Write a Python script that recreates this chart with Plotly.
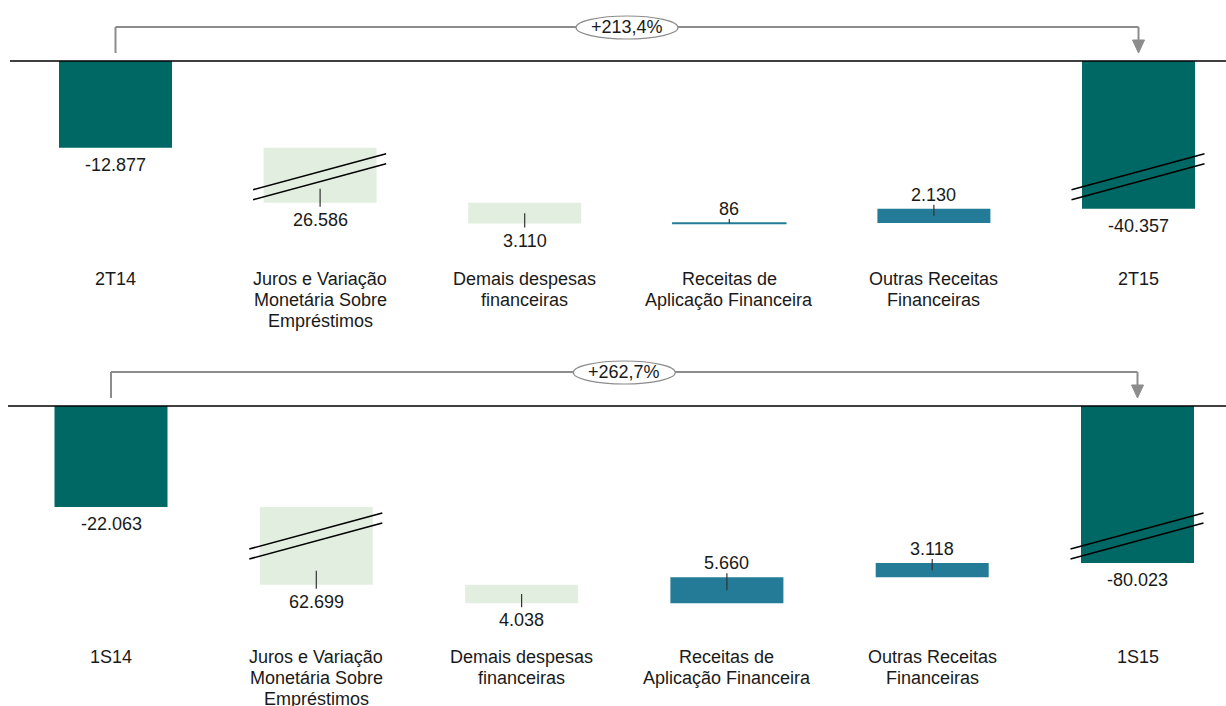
import plotly.graph_objects as go

W, H = 1226, 706
FONT = "Liberation Sans, Arial, sans-serif"
FS = 18

# ---------------- data (R$ mil) ----------------
cats_top = ["2T14", "Juros e Variação<br>Monetária Sobre<br>Empréstimos",
            "Demais despesas<br>financeiras", "Receitas de<br>Aplicação Financeira",
            "Outras Receitas<br>Financeiras", "2T15"]
start_top = -12877
changes_top = [-26586, -3110, 86, 2130]
end_top = -40357
var_top = "+213,4%"

cats_bot = ["1S14", "Juros e Variação<br>Monetária Sobre<br>Empréstimos",
            "Demais despesas<br>financeiras", "Receitas de<br>Aplicação Financeira",
            "Outras Receitas<br>Financeiras", "1S15"]
start_bot = -22063
changes_bot = [-62699, -4038, 5660, 3118]
end_bot = -80023
var_bot = "+262,7%"

TEAL = "#006864"
LIGHT = "#E2EFE0"
BLUE = "#237B97"
GRAY = "#8C8C8C"
TXT = "#1a1a1a"


def fmt(v):
    return f"{v:,}".replace(",", ".")


panels = [
    dict(cats=cats_top, start=start_top, chg=changes_top, end=end_top, var=var_top,
         brk=18420, dom_px=(0, 345), zero_px=61, ppu=0.006733, xc0=115.5, step=204.6,
         zl_start=10, label_top=279, ax=("x", "y")),
    dict(cats=cats_bot, start=start_bot, chg=changes_bot, end=end_bot, var=var_bot,
         brk=45730, dom_px=(345, 706), zero_px=406, ppu=0.004578, xc0=111, step=205.3,
         zl_start=8, label_top=657, ax=("x2", "y2")),
]

fig = go.Figure()
shapes = []
annotations = []
layout_axes = {}

for k, p in enumerate(panels):
    xa, ya = p["ax"]
    n = len(p["cats"])
    xs = list(range(n))
    bases, heights, colors, lw = [], [], [], []
    bases.append(0); heights.append(p["start"]); colors.append(TEAL); lw.append(0)
    cum = p["start"]
    for i, c in enumerate(p["chg"]):
        d = c + p["brk"] if i == 0 else c  # axis break on the first change bar
        bases.append(cum); heights.append(d)
        colors.append(BLUE if c > 0 else LIGHT)
        lw.append(1.5 if abs(c) * p["ppu"] < 1.5 else 0)
        cum += d
    end_disp = p["end"] + p["brk"]
    bases.append(0); heights.append(end_disp); colors.append(TEAL); lw.append(0)

    width = 113 / p["step"]
    fig.add_trace(go.Bar(x=xs, y=heights, base=bases, width=width,
                         marker=dict(color=colors, line=dict(color=colors, width=lw)),
                         xaxis=xa, yaxis=ya, showlegend=False, hoverinfo="skip"))

    values = [p["start"]] + p["chg"] + [p["end"]]
    for i in range(n):
        b, h = bases[i], heights[i]
        lo, hi = min(b, b + h), max(b, b + h)
        is_total = i in (0, n - 1)
        val = values[i]
        text = fmt(val) if is_total else fmt(abs(val))
        barlen = abs(h) * p["ppu"]
        mid = min(barlen / 2, 14)
        if is_total or val < 0:
            annotations.append(dict(x=i, y=lo, xref=xa, yref=ya, text=text, showarrow=False,
                                    yanchor="middle", yshift=-17,
                                    font=dict(size=FS, color=TXT, family=FONT)))
            if not is_total:
                shapes.append(dict(type="line", xref=xa, yref=ya, x0=i, x1=i,
                                   ysizemode="pixel", yanchor=lo, y0=-4, y1=mid,
                                   line=dict(color="#333", width=1.2)))
        else:
            annotations.append(dict(x=i, y=hi, xref=xa, yref=ya, text=text, showarrow=False,
                                    yanchor="middle", yshift=14,
                                    font=dict(size=FS, color=TXT, family=FONT)))
            shapes.append(dict(type="line", xref=xa, yref=ya, x0=i, x1=i,
                               ysizemode="pixel", yanchor=hi, y0=4, y1=-mid,
                               line=dict(color="#333", width=1.2)))
        for j, line in enumerate(p["cats"][i].split("<br>")):
            annotations.append(dict(x=i, xref=xa, y=1 - (p["label_top"] + 21 * j) / H,
                                    yref="paper", text=line, showarrow=False,
                                    yanchor="middle",
                                    font=dict(size=FS, color=TXT, family=FONT)))

    # axis-break double slashes on the first change bar and the final total
    for xi in (1, n - 1):
        for (y0, y1) in ((-42, -6), (-52, -16)):
            shapes.append(dict(type="line", xref=xa, yref=ya, xsizemode="pixel", xanchor=xi,
                               x0=-67, x1=66, ysizemode="pixel", yanchor=p["start"],
                               y0=y0, y1=y1, line=dict(color="black", width=1.6)))

    # zero line
    shapes.append(dict(type="line", xref="paper", yref=ya, x0=p["zl_start"] / W, x1=1,
                       y0=0, y1=0, line=dict(color="black", width=1.5)))

    # variation bracket
    br = dict(color=GRAY, width=2)
    shapes.append(dict(type="line", xref=xa, yref=ya, x0=0, x1=0, ysizemode="pixel",
                       yanchor=0, y0=8, y1=34, line=br))
    shapes.append(dict(type="line", xref=xa, yref=ya, x0=0, x1=n - 1, ysizemode="pixel",
                       yanchor=0, y0=34, y1=34, line=br))
    shapes.append(dict(type="line", xref=xa, yref=ya, x0=n - 1, x1=n - 1, ysizemode="pixel",
                       yanchor=0, y0=34, y1=20, line=br))
    shapes.append(dict(type="path", xref=xa, yref=ya, xsizemode="pixel", xanchor=n - 1,
                       ysizemode="pixel", yanchor=0, path="M-6,21 L6,21 L0,8 Z",
                       fillcolor=GRAY, line=dict(color=GRAY, width=1)))
    shapes.append(dict(type="circle", xref=xa, yref=ya, xsizemode="pixel", xanchor=(n - 1) / 2,
                       x0=-51, x1=51, ysizemode="pixel", yanchor=0, y0=22, y1=45,
                       fillcolor="white", line=dict(color=GRAY, width=1.2)))
    annotations.append(dict(x=(n - 1) / 2, y=0, xref=xa, yref=ya, yshift=34, text=p["var"],
                            showarrow=False, yanchor="middle",
                            font=dict(size=FS, color=TXT, family=FONT)))

    # axes geometry
    d0, d1 = p["dom_px"]
    y_top = p["zero_px"] - d0
    y_bot = d1 - p["zero_px"]
    yr = [-y_bot / p["ppu"], y_top / p["ppu"]]
    xr = [-p["xc0"] / p["step"], (W - p["xc0"]) / p["step"]]
    xkey = "xaxis" if xa == "x" else "xaxis" + xa[1:]
    ykey = "yaxis" if ya == "y" else "yaxis" + ya[1:]
    layout_axes[xkey] = dict(range=xr, domain=[0, 1], visible=False, fixedrange=True,
                             anchor=ya)
    layout_axes[ykey] = dict(range=yr, domain=[1 - d1 / H, 1 - d0 / H], visible=False,
                             fixedrange=True, anchor=xa)

fig.update_layout(width=W, height=H, margin=dict(l=0, r=0, t=0, b=0),
                  paper_bgcolor="white", plot_bgcolor="white", showlegend=False,
                  barmode="overlay", shapes=shapes, annotations=annotations,
                  font=dict(family=FONT, size=FS, color=TXT), hovermode=False,
                  **layout_axes)

fig.write_html("out.html", config={"displayModeBar": False})
